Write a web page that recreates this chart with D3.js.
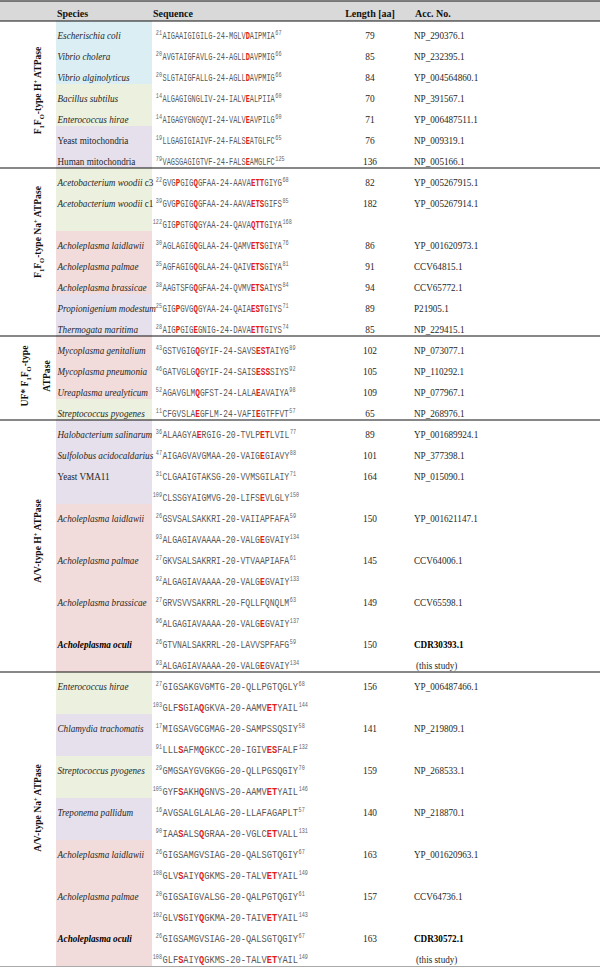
<!DOCTYPE html>
<html><head><meta charset="utf-8">
<script src="https://cdn.jsdelivr.net/npm/d3@7"></script>
<style>body{margin:0;background:#fff}svg{display:block}</style>
</head><body>
<script>
// ---------- DATA ----------
const headers = ["Species", "Sequence", "Length [aa]", "Acc. No."];
const groupNames = ["F_{1}F_{O}-type H^{+} ATPase", "F_{1}F_{O}-type Na^{+} ATPase", "UF* F_{1}F_{O}-type|ATPase", "A/V-type H^{+} ATPase", "A/V-type Na^{+} ATPase"];
const groupOf = [0,0,0,0,0,0,0, 1,1,1,1,1,1,1,1, 2,2,2,2, 3,3,3,3,3,3,3,3,3,3,3,3, 4,4,4,4,4,4,4,4,4,4,4,4,4,4];
const species = [
  "Escherischia coli","Vibrio cholera","Vibrio alginolyticus","Bacillus subtilus","Enterococcus hirae","~Yeast mitochondria","~Human mitochondria",
  "Acetobacterium woodii~ c3","Acetobacterium woodii~ c1","","Acholeplasma laidlawii","Acholeplasma palmae","Acholeplasma brassicae","Propionigenium modestum","Thermogata maritima",
  "Mycoplasma genitalium","Mycoplasma pneumonia","Ureaplasma urealyticum","Streptococcus pyogenes",
  "Halobacterium salinarum","Sulfolobus acidocaldarius","~Yeast VMA11","","Acholeplasma laidlawii","","Acholeplasma palmae","","Acholeplasma brassicae","","Acholeplasma oculi","",
  "Enterococcus hirae","","Chlamydia trachomatis","","Streptococcus pyogenes","","Treponema pallidum","","Acholeplasma laidlawii","","Acholeplasma palmae","","Acholeplasma oculi",""
];
const seqStart = [21,20,20,14,14,19,79, 22,39,122,30,35,38,25,28, 43,46,52,11, 36,47,31,109,26,93,27,92,27,96,26,93, 27,103,17,91,29,105,16,90,26,108,20,102,26,108];
const sequences = [
  "AIGAAIGIGILG-24-MGLV[D]AIPMIA","AVGTAIGFAVLG-24-AGLL[D]AVPMIG","SLGTAIGFALLG-24-AGLL[D]AVPMIG","ALGAGIGNGLIV-24-IALV[E]ALPIIA","AIGAGYGNGQVI-24-VALV[E]AVPILG","LLGAGIGIAIVF-24-FALS[E]ATGLFC","VAGSGAGIGTVF-24-FALS[E]AMGLFC",
  "GVG[P]GIG[Q]GFAA-24-AAVA[ETT]GIYG","GVG[P]GIG[Q]GFAA-24-AAVA[ETS]GIFS","GIG[P]GTG[Q]GYAA-24-QAVA[QTT]GIYA","AGLAGIG[Q]GLAA-24-QAMV[ETS]GIYA","AGFAGIG[Q]GLAA-24-QAIV[ETS]GIYA","AAGTSFG[Q]GFAA-24-QVMV[ETS]AIYS","GIG[P]GVG[Q]GYAA-24-QAIA[EST]GIYS","AIG[P]GIG[E]GNIG-24-DAVA[ETT]GIYS",
  "GSTVGIG[Q]GYIF-24-SAVS[EST]AIYG","GATVGLG[Q]GYIF-24-SAIS[ESS]SIYS","AGAVGLM[Q]GFST-24-LALA[E]AVAIYA","CFGVSLA[E]GFLM-24-VAFI[E]GTFFVT",
  "ALAAGYA[E]RGIG-20-TVLP[ET]LVIL","AIGAGVAVGMAA-20-VAIG[E]GIAVY","CLGAAIGTAKSG-20-VVMSGILAIY","CLSSGYAIGMVG-20-LIFS[E]VLGLY",
  "GSVSALSAKKRI-20-VAIIAPFAFA","ALGAGIAVAAAA-20-VALG[E]GVAIY","GKVSALSAKRRI-20-VTVAAPIAFA","ALGAGIAVAAAA-20-VALG[E]GVAIY",
  "GRVSVVSAKRRL-20-FQLLFQNQLM","ALGAGIAVAAAA-20-VALG[E]GVAIY","GTVNALSAKRRL-20-LAVVSPFAFG","ALGAGIAVAAAA-20-VALG[E]GVAIY",
  "GIGSAKGVGMTG-20-QLLPGTQGLY","GLF[S]GIA[Q]GKVA-20-AAMV[ET]YAIL","MIGSAVGCGMAG-20-SAMPSSQSIY","LLL[S]AFM[Q]GKCC-20-IGIV[ES]FALF",
  "GMGSAYGVGKGG-20-QLLPGSQGIY","GYF[S]AKH[Q]GNVS-20-AAMV[ET]YAIL","AVGSALGLALAG-20-LLAFAGAPLT","IAA[S]ALS[Q]GRAA-20-VGLC[ET]VALL",
  "GIGSAMGVSIAG-20-QALSGTQGIY","GLV[S]AIY[Q]GKMS-20-TALV[ET]YAIL","GIGSAIGVALSG-20-QALPGTQGIY","GLV[S]GIY[Q]GKMA-20-TAIV[ET]YAIL",
  "GIGSAMGVSIAG-20-QALSGTQGIY","GLF[S]AIY[Q]GKMS-20-TALV[ET]YAIL"
];
const seqEnd = [67,66,66,60,60,65,125, 68,85,168,76,81,84,71,74, 89,92,98,57, 77,88,71,150,59,134,61,133,63,137,59,134, 68,144,58,132,70,146,57,131,67,149,61,143,67,149];
const lengths = [79,85,84,70,71,76,136, 82,182,null,86,91,94,89,85, 102,105,109,65, 89,101,164,null,150,null,145,null,149,null,150,null, 156,null,141,null,159,null,140,null,163,null,157,null,163,null];
const accessions = [
  "NP_290376.1","NP_232395.1","YP_004564860.1","NP_391567.1","YP_006487511.1","NP_009319.1","NP_005166.1",
  "YP_005267915.1","YP_005267914.1","","YP_001620973.1","CCV64815.1","CCV65772.1","P21905.1","NP_229415.1",
  "NP_073077.1","NP_110292.1","NP_077967.1","NP_268976.1",
  "YP_001689924.1","NP_377398.1","NP_015090.1","","YP_001621147.1","","CCV64006.1","","CCV65598.1","","CDR30393.1","(this study)",
  "YP_006487466.1","","NP_219809.1","","NP_268533.1","","NP_218870.1","","YP_001620963.1","","CCV64736.1","","CDR30572.1","(this study)"
];
const clades = [
  "b","b","b","g","g","v","v",
  "g","g","g","p","p","p","v","v",
  "p","p","p","g",
  "v","v","v","v","p","p","p","p","p","p","p","p",
  "g","g","v","v","g","g","v","v","p","p","p","p","p","p"
];
const novelRows = [29, 43];

// ---------- LAYOUT ----------
const W = 600, H = 968;
const svg = d3.select("body").append("svg").attr("width", W).attr("height", H)
  .style("font-family", "'Liberation Serif','Times New Roman',serif");
const n = species.length;
const y = d3.scaleBand().domain(d3.range(n)).range([21, 966]);
const bw = y.bandwidth();
const cladeColor = d3.scaleOrdinal().domain(["b","g","v","p"]).range(["#daeef3","#ebf1de","#e5e0ec","#f2dcdb"]);
const seqFont = 11;
const seqScale = [0.63, 0.67, 0.71, 0.74, 0.79];
const labelShift = [4, 20, 2, 5, 11];
const ink = "#262626";

// header
svg.append("rect").attr("x", 0).attr("y", 1).attr("width", W).attr("height", 20).attr("fill", "#d9d9d9");
svg.append("line").attr("x1", 0).attr("x2", W).attr("y1", 1).attr("y2", 1).attr("stroke", "#555").attr("stroke-width", 1.5);
const headX = [57, 153, 370, 415];
svg.selectAll("text.head").data(headers).join("text").attr("class", "head")
  .attr("x", (d, i) => headX[i]).attr("y", 17)
  .attr("text-anchor", (d, i) => i === 2 ? "middle" : "start")
  .attr("font-weight", "bold").attr("font-size", 10).attr("fill", "#111").text(d => d);

// species background
svg.selectAll("rect.bg").data(d3.range(n)).join("rect").attr("class", "bg")
  .attr("x", 56).attr("width", 96).attr("y", i => y(i)).attr("height", bw + 0.3)
  .attr("fill", i => cladeColor(clades[i]));

// group boundaries
const groups = groupNames.map((g, gi) => {
  const rows = d3.range(n).filter(i => groupOf[i] === gi);
  return { name: g, top: y(rows[0]), bottom: y(rows[rows.length - 1]) + bw };
});
const sepY = [21].concat(groups.slice(0, -1).map(g => g.bottom));
svg.selectAll("line.sep").data(sepY).join("line").attr("class", "sep")
  .attr("x1", 0).attr("x2", W).attr("y1", d => d).attr("y2", d => d)
  .attr("stroke", "#111").attr("stroke-width", 1.2);
svg.append("line").attr("x1", 0).attr("x2", W).attr("y1", 966.5).attr("y2", 966.5).attr("stroke", "#aaa").attr("stroke-width", 1);

// rich text helper
function rich(s) {
  const out = []; const re = /([_^])\{([^}]*)\}/g; let last = 0, m;
  while ((m = re.exec(s))) {
    if (m.index > last) out.push({ t: s.slice(last, m.index), k: "n" });
    out.push({ t: m[2], k: m[1] === "_" ? "sub" : "sup" }); last = re.lastIndex;
  }
  if (last < s.length) out.push({ t: s.slice(last), k: "n" });
  return out;
}
function addRich(textSel, s, fs) {
  let off = 0;
  rich(s).forEach(seg => {
    const target = seg.k === "sub" ? 2.5 : seg.k === "sup" ? -3.5 : 0;
    textSel.append("tspan").attr("dy", target - off)
      .attr("font-size", seg.k === "n" ? fs : fs * 0.68).text(seg.t);
    off = target;
  });
}

// group labels
groups.forEach((g, gi) => {
  const cy = (g.top + g.bottom) / 2 - labelShift[gi];
  const lines = g.name.split("|");
  const xs = lines.length === 1 ? [41] : [28, 50];
  lines.forEach((ln, li) => {
    const t = svg.append("text").attr("transform", `translate(${xs[li]},${cy}) rotate(-90)`)
      .attr("text-anchor", "middle").attr("font-weight", "bold").attr("fill", "#111");
    addRich(t, ln, 9.6);
  });
});

// species
d3.range(n).forEach(i => {
  if (!species[i]) return;
  const parts = species[i].split("~");
  const t = svg.append("text").attr("transform", `translate(57.5,${y(i) + 17.8}) scale(0.88,1)`)
    .attr("font-size", 10.4).attr("fill", ink);
  if (novelRows.includes(i)) t.attr("font-weight", "bold").attr("fill", "#000");
  if (parts[0]) t.append("tspan").attr("font-style", "italic").text(parts[0]);
  if (parts.length > 1) t.append("tspan").text(parts[1]);
});

// sequences
const mono = "'Liberation Mono','Courier New',monospace";
d3.range(n).forEach(i => {
  const by = y(i) + 17.8;
  const sc = seqScale[groupOf[i]];
  svg.append("text").attr("transform", `translate(162,${by - 3.8}) scale(0.78,1)`)
    .attr("text-anchor", "end").style("font-family", mono)
    .attr("font-size", 6.6).attr("fill", "#666").text(seqStart[i]);
  const t = svg.append("text").attr("transform", `translate(162.5,${by}) scale(${sc},1)`)
    .style("font-family", mono).attr("font-size", seqFont).attr("fill", "#595959");
  sequences[i].split(/(\[[^\]]+\])/).filter(s => s.length).forEach(s => {
    if (s[0] === "[") t.append("tspan").attr("fill", "#e3201b").attr("font-weight", "bold").text(s.slice(1, -1));
    else t.append("tspan").text(s);
  });
  const w = t.node().getComputedTextLength() * sc;
  svg.append("text").attr("transform", `translate(${162.5 + w + 0.6},${by - 3.8}) scale(0.78,1)`)
    .style("font-family", mono).attr("font-size", 6.6).attr("fill", "#666").text(seqEnd[i]);
});

// lengths
svg.selectAll("text.len").data(d3.range(n).filter(i => lengths[i] != null)).join("text").attr("class", "len")
  .attr("transform", i => `translate(370,${y(i) + 17.8}) scale(0.9,1)`).attr("text-anchor", "middle")
  .attr("font-size", 10.4).attr("fill", ink).text(i => lengths[i]);

// accessions
svg.selectAll("text.acc").data(d3.range(n).filter(i => accessions[i])).join("text").attr("class", "acc")
  .attr("transform", i => `translate(${accessions[i][0] === "(" ? 416 : 414},${y(i) + 17.8}) scale(0.88,1)`)
  .attr("font-size", 10.4).attr("fill", i => novelRows.includes(i) ? "#000" : ink)
  .attr("font-weight", i => novelRows.includes(i) ? "bold" : "normal")
  .text(i => accessions[i]);
</script>
</body></html>
